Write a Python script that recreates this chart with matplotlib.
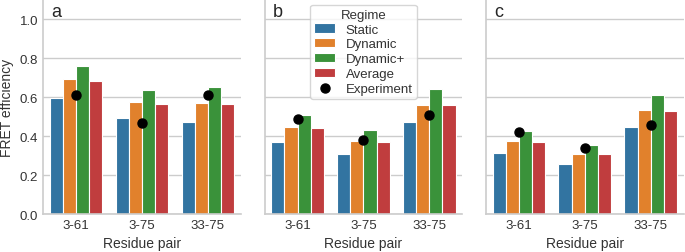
import numpy as np
import matplotlib.pyplot as plt

plt.rcParams["font.family"] = ["Liberation Sans", "DejaVu Sans"]

pairs = ["3-61", "3-75", "33-75"]
regimes = ["Static", "Dynamic", "Dynamic+", "Average"]
colors = ["#3274a1", "#e1812c", "#3a923a", "#c03d3e"]
panels = ["a", "b", "c"]

# FRET efficiency per panel, rows = panel, columns = residue pair
static = [[0.597, 0.492, 0.470], [0.369, 0.308, 0.470], [0.313, 0.255, 0.446]]
dynamic = [[0.692, 0.576, 0.569], [0.446, 0.374, 0.562], [0.376, 0.309, 0.535]]
dynamic_plus = [[0.759, 0.636, 0.653], [0.508, 0.431, 0.644], [0.424, 0.354, 0.612]]
average = [[0.684, 0.567, 0.564], [0.441, 0.369, 0.559], [0.371, 0.306, 0.530]]
experiment = [[0.609, 0.468, 0.609], [0.489, 0.378, 0.509], [0.419, 0.338, 0.458]]

fig, axes = plt.subplots(1, 3, figsize=(6.85, 2.53), dpi=100, sharey=True)
fig.subplots_adjust(left=0.063, right=0.998, bottom=0.15, top=0.997, wspace=0.12)

x = np.arange(len(pairs))
width = 0.8 / 4
for i, ax in enumerate(axes):
    series = [static[i], dynamic[i], dynamic_plus[i], average[i]]
    for j, vals in enumerate(series):
        ax.bar(x - 0.4 + width * (j + 0.5), vals, width, color=colors[j],
               edgecolor="white", linewidth=0.8, label=regimes[j], zorder=2)
    ax.plot(x, experiment[i], "o", color="black", markersize=6.5, label="Experiment", zorder=3)

    ax.set_xticks(x)
    ax.set_xticklabels(pairs)
    ax.set_xlim(-0.5, 2.5)
    ax.set_ylim(0, 1.1)
    ax.set_yticks([0, 0.2, 0.4, 0.6, 0.8, 1.0])
    ax.grid(axis="y", color="#cccccc", linewidth=1, zorder=0)
    ax.set_axisbelow(True)
    for side in ["top", "right"]:
        ax.spines[side].set_visible(False)
    for side in ["left", "bottom"]:
        ax.spines[side].set_color("#cccccc")
        ax.spines[side].set_linewidth(1.2)
    ax.tick_params(length=0, labelsize=9.5, colors="#333333")
    ax.set_xlabel("Residue pair", fontsize=10, color="#333333")
    ax.text(0.04, 0.985, panels[i], transform=ax.transAxes, fontsize=13,
            va="top", ha="left", color="#262626")

axes[0].set_ylabel("FRET efficiency", fontsize=10, color="#333333")

# legend order: bars first, experiment last
handles, labels = axes[1].get_legend_handles_labels()
order = [1, 2, 3, 4, 0]
leg = axes[1].legend([handles[k] for k in order], [labels[k] for k in order],
                     title="Regime", loc="upper center", bbox_to_anchor=(0.5, 0.995),
                     fontsize=9.5, title_fontsize=9.5, frameon=True,
                     handlelength=1.6, handletextpad=0.8, borderpad=0.3,
                     labelspacing=0.2, borderaxespad=0.3)
leg.get_frame().set_edgecolor("#cccccc")
for t in leg.get_texts():
    t.set_color("#333333")
leg.get_title().set_color("#333333")

plt.savefig("out.png", dpi=100)
